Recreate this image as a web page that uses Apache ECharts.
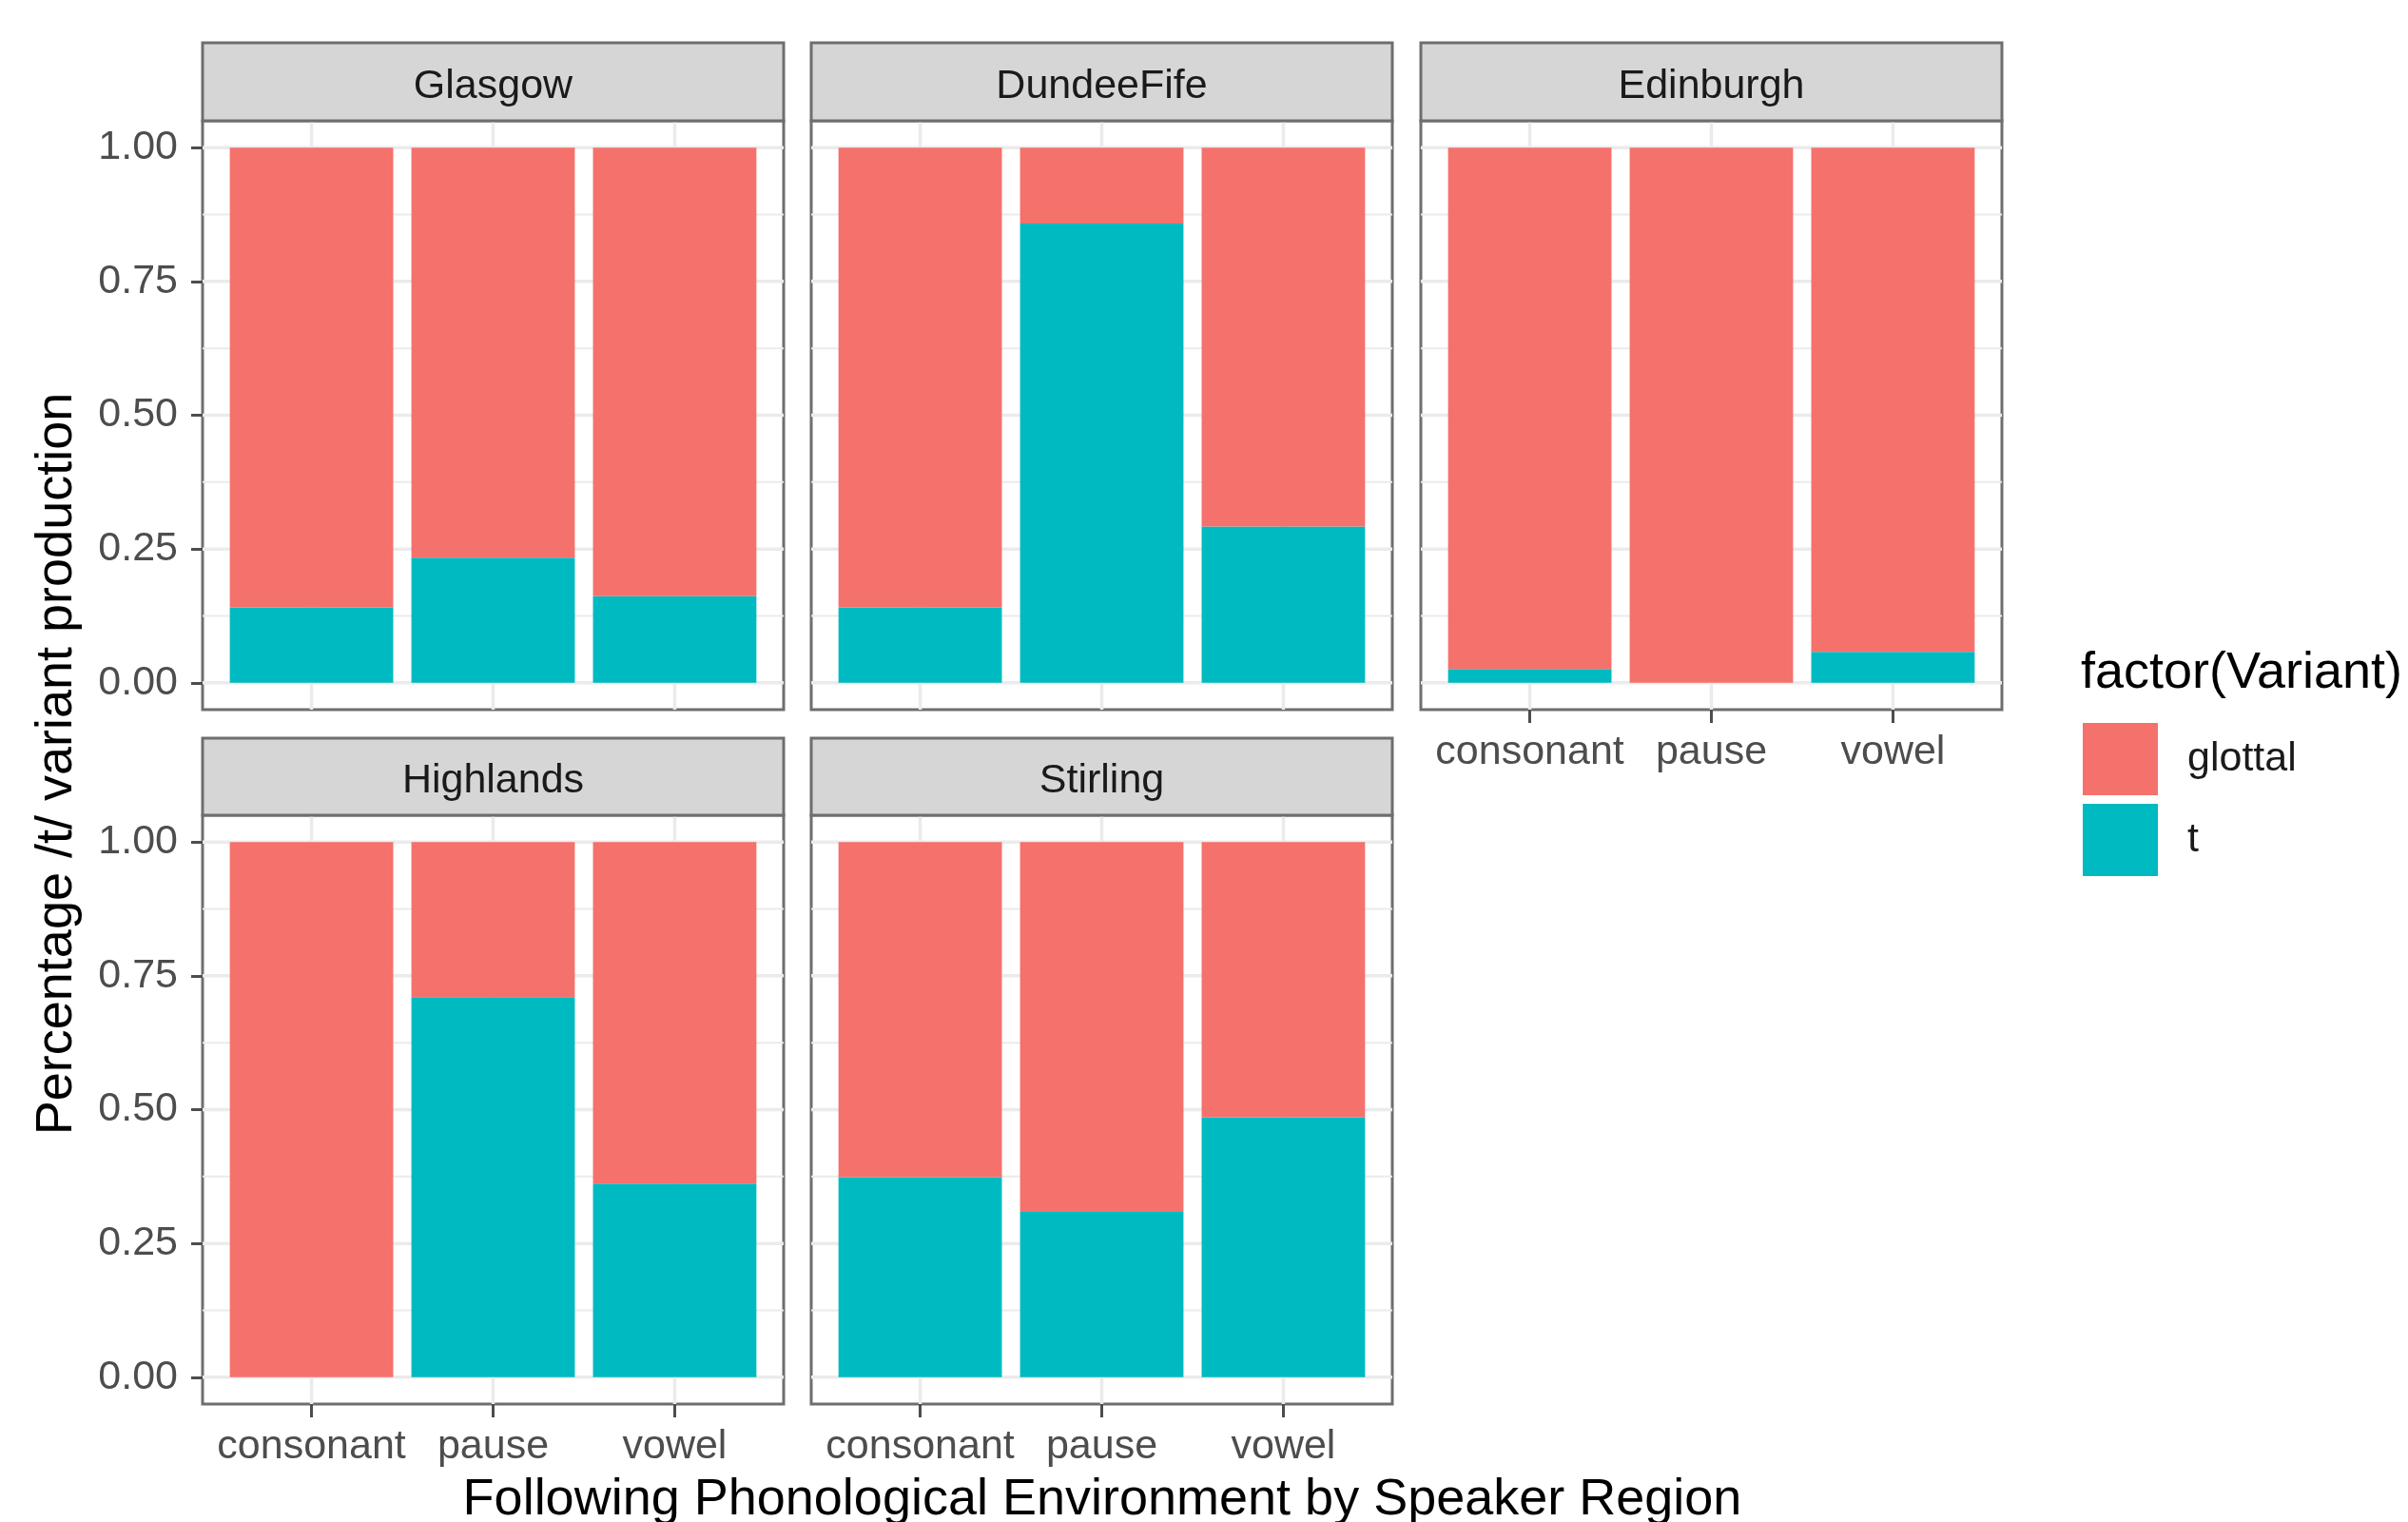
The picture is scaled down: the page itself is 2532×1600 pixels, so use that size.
<!DOCTYPE html>
<html><head><meta charset="utf-8">
<script src="https://cdn.jsdelivr.net/npm/echarts@6/dist/echarts.min.js"></script>
<style>html,body{margin:0;padding:0;background:#fff}#c{width:2532px;height:1600px}</style>
</head><body><div id="c"></div>
<script>
// ---------- data ----------
const categories = ['consonant', 'pause', 'vowel'];
const regions = ['Glasgow', 'DundeeFife', 'Edinburgh', 'Highlands', 'Stirling'];
const variants = ['glottal', 't'];

const tGlasgow       = [0.141, 0.234, 0.162];
const glottalGlasgow = [0.859, 0.766, 0.838];
const tDundeeFife       = [0.141, 0.858, 0.292];
const glottalDundeeFife = [0.859, 0.142, 0.708];
const tEdinburgh       = [0.026, 0.000, 0.058];
const glottalEdinburgh = [0.974, 1.000, 0.942];
const tHighlands       = [0.000, 0.710, 0.362];
const glottalHighlands = [1.000, 0.290, 0.638];
const tStirling       = [0.374, 0.309, 0.486];
const glottalStirling = [0.626, 0.691, 0.514];

const yMajorTicks = [0, 0.25, 0.5, 0.75, 1];
const yMinorTicks = [0.125, 0.375, 0.625, 0.875];
const yTickLabels = ['0.00', '0.25', '0.50', '0.75', '1.00'];
const xTickPositions = [1, 2, 3];

const tByRegion = [tGlasgow, tDundeeFife, tEdinburgh, tHighlands, tStirling];
const glottalByRegion = [glottalGlasgow, glottalDundeeFife, glottalEdinburgh, glottalHighlands, glottalStirling];

// ---------- layout / style ----------
const FONT = '"Liberation Sans", Arial, Helvetica, sans-serif';
const COLORS = { glottal: '#F5716C', t: '#00BAC1' };
const panelLeft = [213, 853, 1494];
const panelW = 611;
const stripTop = [45, 776];
const panelTop = [127, 857];
const panelH = 619;
const cells = [[0, 0], [0, 1], [0, 2], [1, 0], [1, 1]]; // [row, col]
const showXAxis = [false, false, true, true, true];
const BORDER = '#6e6e6e';
const GRID = '#ebebeb';

function hLine(width) {
  return function (params, api) {
    const cs = params.coordSys;
    const y = api.coord([2, api.value(1)])[1];
    return { type: 'line', shape: { x1: cs.x, y1: y, x2: cs.x + cs.width, y2: y },
      style: { stroke: GRID, lineWidth: width } };
  };
}
function vLine(width) {
  return function (params, api) {
    const cs = params.coordSys;
    const x = api.coord([api.value(0), 0.5])[0];
    return { type: 'line', shape: { x1: x, y1: cs.y, x2: x, y2: cs.y + cs.height },
      style: { stroke: GRID, lineWidth: width } };
  };
}
function renderBar(params, api) {
  const x = api.value(0), v = api.value(1), base = api.value(2);
  const p0 = api.coord([x, base]);
  const p1 = api.coord([x, base + v]);
  const w = api.size([0.9, 0])[0];
  return { type: 'rect', shape: { x: p0[0] - w / 2, y: p1[1], width: w, height: p0[1] - p1[1] },
    style: { fill: api.visual('color') } };
}

const grids = [], xAxes = [], yAxes = [], series = [], graphics = [];
regions.forEach((name, i) => {
  const [row, col] = cells[i];
  grids.push({ left: panelLeft[col], top: panelTop[row], width: panelW, height: panelH,
    show: true, borderColor: BORDER, borderWidth: 3, backgroundColor: 'transparent',
    containLabel: false, outerBoundsMode: 'none' });
  xAxes.push({ type: 'value', gridIndex: i, min: 0.4, max: 3.6,
    axisLine: { show: false, onZero: false }, splitLine: { show: false },
    axisTick: { show: showXAxis[i], customValues: xTickPositions, length: 14, lineStyle: { color: '#4d4d4d', width: 3 } },
    axisLabel: { show: showXAxis[i], customValues: xTickPositions, margin: 24,
      formatter: v => categories[Math.round(v) - 1], color: '#4d4d4d', fontSize: 43, fontFamily: FONT } });
  yAxes.push({ type: 'value', gridIndex: i, min: -0.05, max: 1.05,
    axisLine: { show: false, onZero: false }, splitLine: { show: false },
    axisTick: { show: col === 0, customValues: yMajorTicks, length: 12, lineStyle: { color: '#4d4d4d', width: 3 } },
    axisLabel: { show: col === 0, customValues: yMajorTicks, margin: 26, padding: [6, 0, 0, 0],
      formatter: v => yTickLabels[yMajorTicks.indexOf(+v.toFixed(3))] ?? v.toFixed(2),
      color: '#4d4d4d', fontSize: 43, fontFamily: FONT } });

  // grid lines
  series.push({ type: 'custom', xAxisIndex: i, yAxisIndex: i, z: 1, silent: true,
    encode: { x: 0, y: 1 }, renderItem: hLine(2), data: yMinorTicks.map(v => [2, v]) });
  series.push({ type: 'custom', xAxisIndex: i, yAxisIndex: i, z: 1, silent: true,
    encode: { x: 0, y: 1 }, renderItem: hLine(3.5), data: yMajorTicks.map(v => [2, v]) });
  series.push({ type: 'custom', xAxisIndex: i, yAxisIndex: i, z: 1, silent: true,
    encode: { x: 0, y: 1 }, renderItem: vLine(3.5), data: xTickPositions.map(x => [x, 0.5]) });

  // bars: t at bottom, glottal stacked on top
  const tv = tByRegion[i], gv = glottalByRegion[i];
  series.push({ type: 'custom', name: 't', xAxisIndex: i, yAxisIndex: i, z: 3,
    itemStyle: { color: COLORS.t }, encode: { x: 0, y: 1 }, renderItem: renderBar,
    data: categories.map((c, j) => [xTickPositions[j], tv[j], 0]) });
  series.push({ type: 'custom', name: 'glottal', xAxisIndex: i, yAxisIndex: i, z: 3,
    itemStyle: { color: COLORS.glottal }, encode: { x: 0, y: 1 }, renderItem: renderBar,
    data: categories.map((c, j) => [xTickPositions[j], gv[j], tv[j]]) });

  // facet strip
  graphics.push({ type: 'rect', z: 10,
    shape: { x: panelLeft[col], y: stripTop[row], width: panelW, height: panelTop[row] - stripTop[row] },
    style: { fill: '#d6d6d6', stroke: BORDER, lineWidth: 3 } });
  graphics.push({ type: 'text', z: 11, x: panelLeft[col] + panelW / 2, y: (stripTop[row] + panelTop[row]) / 2 + 5,
    style: { text: name, fill: '#1a1a1a', font: '43px ' + FONT, align: 'center', verticalAlign: 'middle' } });
});

graphics.push({ type: 'text', x: 1159, y: 1577,
  style: { text: 'Following Phonological Environment by Speaker Region', fill: '#000',
    font: '54px ' + FONT, align: 'center', verticalAlign: 'middle' } });
graphics.push({ type: 'text', x: 60, y: 803, rotation: Math.PI / 2,
  style: { text: 'Percentage /t/ variant production', fill: '#000',
    font: '54px ' + FONT, align: 'center', verticalAlign: 'middle' } });
graphics.push({ type: 'text', x: 2188, y: 708,
  style: { text: 'factor(Variant)', fill: '#000', font: '54px ' + FONT, align: 'left', verticalAlign: 'middle' } });

const chart = echarts.init(document.getElementById('c'), null, { renderer: 'canvas' });
chart.setOption({
  backgroundColor: '#ffffff',
  animation: false,
  color: [COLORS.glottal, COLORS.t],
  grid: grids, xAxis: xAxes, yAxis: yAxes, series: series,
  legend: { orient: 'vertical', left: 2190, top: 760, padding: 0, itemWidth: 79, itemHeight: 76, itemGap: 9,
    icon: 'rect', selectedMode: false, data: variants,
    textStyle: { fontSize: 43, fontFamily: FONT, color: '#1a1a1a', padding: [8, 0, 0, 26] } },
  graphic: graphics
});
</script></body></html>
